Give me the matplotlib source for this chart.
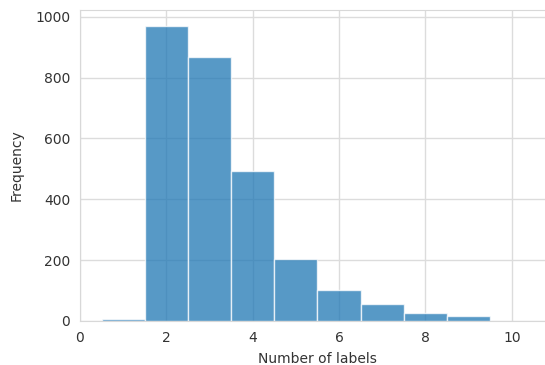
import matplotlib
matplotlib.use("Agg")
import matplotlib.pyplot as plt
import seaborn as sns
import numpy as np

sns.set_style("whitegrid")

num_labels = [1, 2, 3, 4, 5, 6, 7, 8, 9]
counts = [7, 970, 868, 494, 204, 101, 55, 26, 16]

fig = plt.figure(figsize=(5.45, 3.65), dpi=100)
ax = fig.add_axes([80/545, 44/365, 475/545, 311/365])

ax.bar(num_labels, counts, width=1.0, color="#1f77b4", alpha=0.75,
       edgecolor="white", linewidth=1.0, align="center")

ax.set_xlim(0, 11)
ax.set_ylim(0, 1022)
ax.set_xticks([0, 2, 4, 6, 8, 10])
ax.set_yticks([0, 200, 400, 600, 800, 1000])
ax.set_xlabel("Number of labels", fontsize=10, color="#333333", labelpad=5)
ax.set_ylabel("Frequency", fontsize=10, color="#333333", labelpad=8)
ax.tick_params(labelsize=10, colors="#333333")
ax.grid(color="#dcdcdc", linewidth=1.0)
for s in ax.spines.values():
    s.set_color("#d8d8d8")

fig.savefig("out.png", dpi=100)
